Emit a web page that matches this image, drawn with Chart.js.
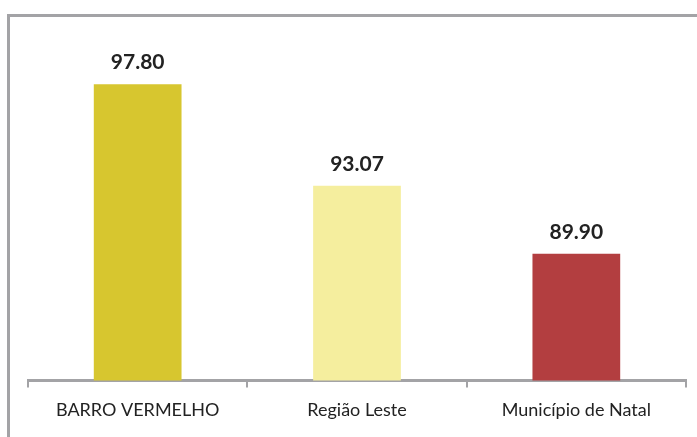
<!DOCTYPE html>
<html>
<head>
<meta charset="utf-8">
<script src="https://cdn.jsdelivr.net/npm/chart.js@4"></script>
<style>
    body { margin: 0; background: #fff; }
    #wrap { position: relative; width: 697px; height: 437px; overflow: hidden; }
    #frame { position: absolute; left: 7px; top: 14px; width: 720px; height: 460px; border: 3px solid #a3a3a6; box-sizing: border-box; }
    #chart { position: absolute; left: 0; top: 0; }
</style>
</head>
<body>
<div id="wrap">
    <div id="frame"></div>
    <canvas id="chart" width="697" height="437"></canvas>
</div>
<script>
const categories = ['BARRO VERMELHO', 'Região Leste', 'Município de Natal'];
const values = [97.80, 93.07, 89.90];
const barColors = ['#d7c62f', '#f5ee9e', '#b33e40'];

/* value labels above bars */
const valueLabels = {
    id: 'valueLabels',
    afterDatasetsDraw(chart) {
        const ctx = chart.ctx;
        const meta = chart.getDatasetMeta(0);
        ctx.save();
        ctx.font = 'bold 21px Lato';
        ctx.fillStyle = '#222';
        ctx.textAlign = 'center';
        ctx.textBaseline = 'middle';
        meta.data.forEach((bar, i) => {
            ctx.fillText(values[i].toFixed(2), bar.x, bar.y - 22);
        });
        ctx.restore();
    }
};

new Chart(document.getElementById('chart').getContext('2d'), {
    type: 'bar',
    data: {
        labels: categories,
        datasets: [{
            data: values,
            backgroundColor: barColors,
            borderWidth: 0,
            barPercentage: 0.4,
            categoryPercentage: 1
        }]
    },
    options: {
        responsive: false,
        animation: false,
        layout: {
            padding: { left: 28, right: 11, top: 37, bottom: 4 }
        },
        plugins: {
            legend: { display: false },
            tooltip: { enabled: false }
        },
        scales: {
            x: {
                grid: {
                    drawOnChartArea: false,
                    drawTicks: true,
                    tickLength: 7,
                    color: '#a3a3a6',
                    lineWidth: 2
                },
                border: { color: '#a3a3a6', width: 3 },
                ticks: {
                    color: '#222',
                    font: { family: 'Lato', size: 18 },
                    padding: 12
                }
            },
            y: {
                display: false,
                min: 84,
                max: 100
            }
        }
    },
    plugins: [valueLabels]
});
</script>
</body>
</html>
